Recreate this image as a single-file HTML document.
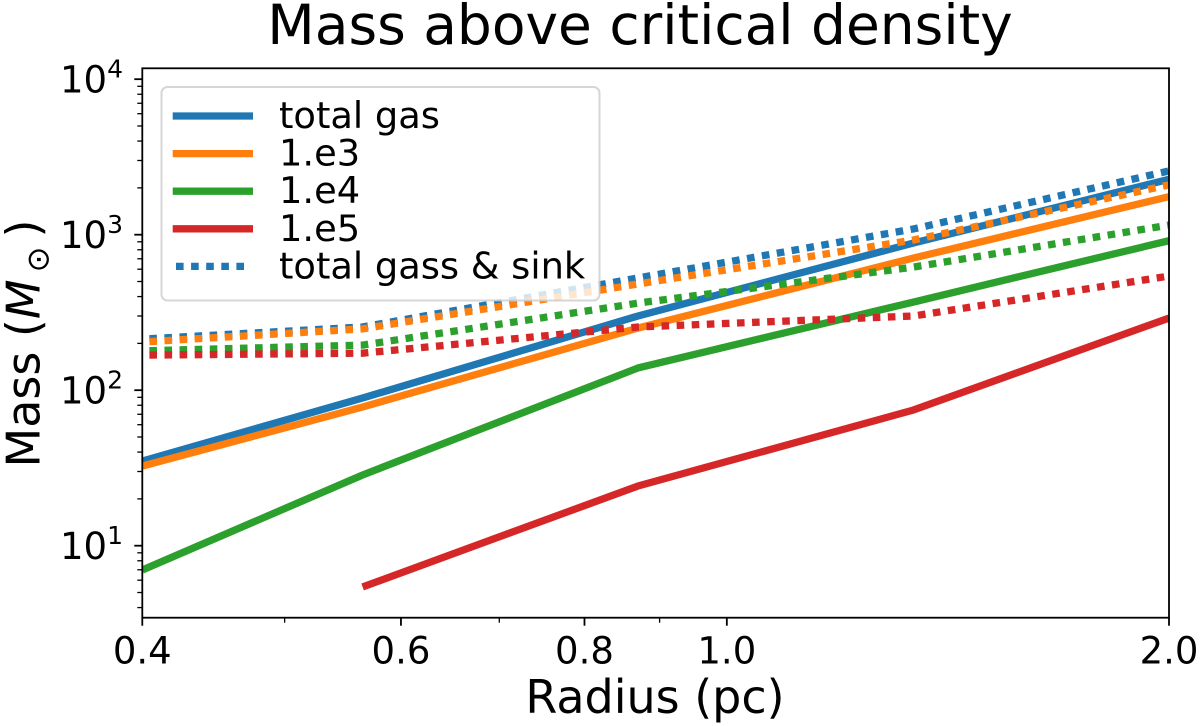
<!DOCTYPE html>
<html>
<head>
<meta charset="utf-8">
<style>
html,body{margin:0;padding:0;background:#fff;width:1200px;height:726px;overflow:hidden}
svg{display:block}
text{font-family:"DejaVu Sans","Liberation Sans",sans-serif;fill:#000}
</style>
</head>
<body>
<svg id="chart" width="1200" height="726" viewBox="0 0 1200 726" xmlns="http://www.w3.org/2000/svg">
<defs><clipPath id="plot-clip"><rect x="142.3" y="68.3" width="1026.7" height="549.4"/></clipPath></defs>
<text x="640" y="44" font-size="55" text-anchor="middle">Mass above critical density</text>
<text x="655" y="713" font-size="46" text-anchor="middle">Radius (pc)</text>
<text transform="translate(39.5,467.5) rotate(-90)" font-size="46">Mass (<tspan font-style="italic">M</tspan><tspan font-size="31" x="195" dy="9">⊙</tspan><tspan x="230" dy="-9">)</tspan></text>
<g id="series-layer" clip-path="url(#plot-clip)"></g>
<g id="axis-layer"></g>
<g id="legend-layer">
<rect x="161.5" y="87" width="438" height="213.5" rx="6" fill="#fff" fill-opacity="0.8" stroke="#ccc" stroke-opacity="0.8" stroke-width="2"/>
</g>
</svg>
<script>
const radii = [0.4, 0.565, 0.87, 1.34, 2.0];
const solidTotal = [35.0, 89.1, 300, 884, 2271];
const solid1e3 = [32.5, 78, 251, 708, 1756];
const solid1e4 = [6.98, 28.5, 139, 369, 915];
const solid1e5 = [null, 5.43, 24.2, 74.6, 291];
const dottedTotal = [213, 255, 527, 1089, 2570];
const dotted1e3 = [204, 248, 482, 925, 2089];
const dotted1e4 = [179, 195, 363, 619, 1153];
const dotted1e5 = [168, 173, 255, 300, 542];
const xMajorTicks = [0.4, 0.6, 0.8, 1.0, 2.0];
const xMajorLabels = ["0.4", "0.6", "0.8", "1.0", "2.0"];
const xMinorTicks = [0.5, 0.7, 0.9];
const yDecades = [1, 2, 3, 4];
const yMinorFactors = [2, 3, 4, 5, 6, 7, 8, 9];
const legendLabels = ["total gas", "1.e3", "1.e4", "1.e5", "total gass & sink"];

const NS = "http://www.w3.org/2000/svg";
const xLeft = 142.3, xRight = 1169, yTop = 68.3, yBottom = 617.7;
const xMin = 0.4, xMax = 2.0;
const yLogAtBottom = 0.537, yLogAtTop = 4.07;
function xScale(v) {
  return xLeft + (Math.log10(v) - Math.log10(xMin)) / (Math.log10(xMax) - Math.log10(xMin)) * (xRight - xLeft);
}
function yScale(v) {
  return yBottom - (Math.log10(v) - yLogAtBottom) / (yLogAtTop - yLogAtBottom) * (yBottom - yTop);
}
function make(tag, attrs, parent) {
  const el = document.createElementNS(NS, tag);
  for (const k in attrs) el.setAttribute(k, attrs[k]);
  parent.appendChild(el);
  return el;
}
const BLUE = "#1f77b4", ORANGE = "#ff7f0e", GREEN = "#2ca02c", RED = "#d62728";
const seriesLayer = document.getElementById("series-layer");
const axisLayer = document.getElementById("axis-layer");
const legendLayer = document.getElementById("legend-layer");

function drawSeries(values, color, dotted, name) {
  const pts = [];
  values.forEach(function (v, i) {
    if (v !== null) pts.push(xScale(radii[i]).toFixed(2) + "," + yScale(v).toFixed(2));
  });
  const line = make("polyline", {
    points: pts.join(" "), fill: "none", stroke: color, "stroke-width": 7.3,
    "stroke-linejoin": "round", "stroke-dasharray": dotted ? "7.6 7.5" : "none",
    "stroke-dashoffset": dotted ? 8 : 0
  }, seriesLayer);
  
  
}
drawSeries(solidTotal, BLUE, false, 'series-total-gas');
drawSeries(solid1e3, ORANGE, false, 'series-1e3');
drawSeries(solid1e4, GREEN, false, 'series-1e4');
drawSeries(solid1e5, RED, false, 'series-1e5');
drawSeries(dottedTotal, BLUE, true, 'series-total-gas-sink');
drawSeries(dotted1e3, ORANGE, true, 'series-1e3-sink');
drawSeries(dotted1e4, GREEN, true, 'series-1e4-sink');
drawSeries(dotted1e5, RED, true, 'series-1e5-sink');

const spine = make("rect", {
  x: xLeft, y: yTop, width: xRight - xLeft, height: yBottom - yTop,
  fill: "none", stroke: "#000", "stroke-width": 1.8
}, axisLayer);



xMajorTicks.forEach(function (v, i) {
  const x = xScale(v);
  const tick = make("line", { x1: x, x2: x, y1: yBottom, y2: yBottom + 8, stroke: "#000", "stroke-width": 1.8 }, axisLayer);
  
  
  const label = make("text", { x: x, y: 663.5, "font-size": 37, "text-anchor": "middle" }, axisLayer);
  label.textContent = xMajorLabels[i];
  
  
});
xMinorTicks.forEach(function (v) {
  const x = xScale(v);
  const tick = make("line", { x1: x, x2: x, y1: yBottom, y2: yBottom + 5, stroke: "#000", "stroke-width": 1.3 }, axisLayer);
  
  
});
yDecades.forEach(function (d) {
  const base = Math.pow(10, d);
  const y = yScale(base);
  const tick = make("line", { x1: xLeft - 8, x2: xLeft, y1: y, y2: y, stroke: "#000", "stroke-width": 1.8 }, axisLayer);
  
  
  const label = make("text", { x: 60, y: y + 13.5, "font-size": 37 }, axisLayer);
  
  
  label.appendChild(document.createTextNode("10"));
  const sup = make("tspan", { "font-size": 25, dy: -15 }, label);
  sup.textContent = String(d);
});
[0].concat(yDecades).forEach(function (d) {
  yMinorFactors.forEach(function (f) {
    const v = f * Math.pow(10, d);
    const lg = Math.log10(v);
    if (lg <= yLogAtBottom || lg >= yLogAtTop) return;
    const y = yScale(v);
    const tick = make("line", { x1: xLeft - 5, x2: xLeft, y1: y, y2: y, stroke: "#000", "stroke-width": 1.3 }, axisLayer);
    
    
  });
});

const legendColors = [BLUE, ORANGE, GREEN, RED, BLUE];
legendLabels.forEach(function (t, i) {
  const y = 116 + i * 37.6;
  const dotted = i === 4;
  const sw = make("line", {
    x1: dotted ? 176 : 172.7, x2: dotted ? 245 : 253, y1: y, y2: y, stroke: legendColors[i], "stroke-width": 7.3,
    "stroke-dasharray": dotted ? "7.6 7.5" : "none"
  }, legendLayer);
  
  
  const label = make("text", { x: 279, y: y + 12, "font-size": 36.8 }, legendLayer);
  label.textContent = t;
  
  
});
</script>
</body>
</html>
